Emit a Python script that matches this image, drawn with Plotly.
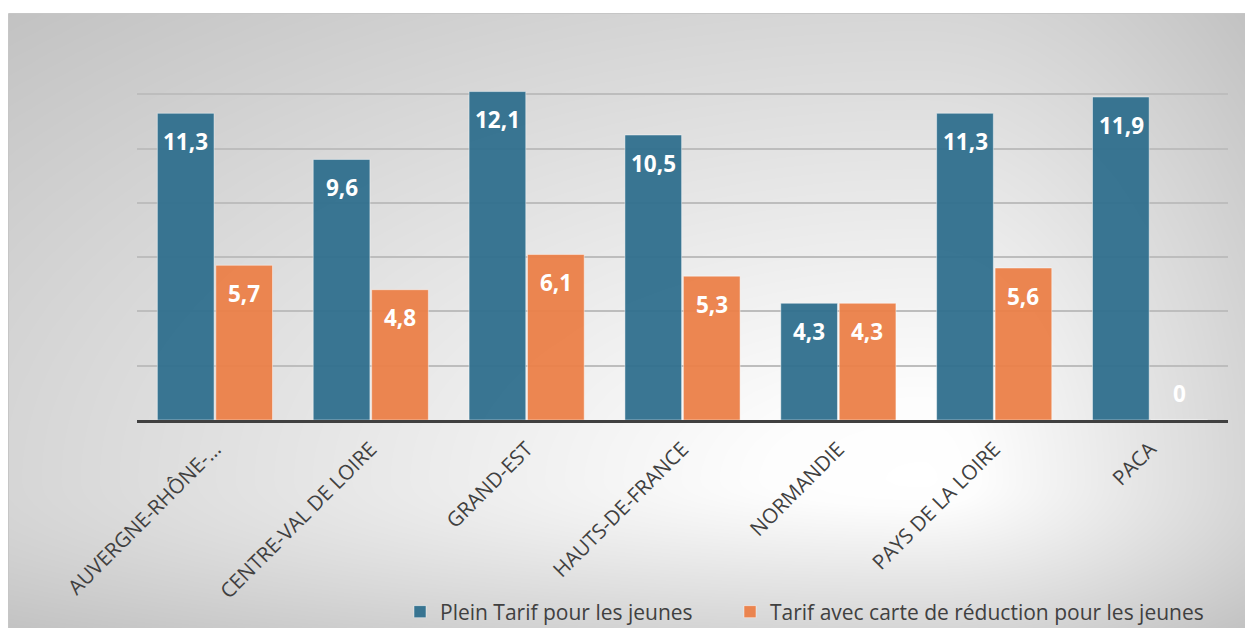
import numpy as np
import plotly.graph_objects as go

categories = ["AUVERGNE-RHÔNE-…", "CENTRE-VAL DE LOIRE", "GRAND-EST", "HAUTS-DE-FRANCE",
              "NORMANDIE", "PAYS DE LA LOIRE", "PACA"]
plein_tarif = [11.3, 9.6, 12.1, 10.5, 4.3, 11.3, 11.9]
tarif_reduit = [5.7, 4.8, 6.1, 5.3, 4.3, 5.6, 0]
series_names = ["Plein Tarif pour les jeunes", "Tarif avec carte de réduction pour les jeunes"]

BLUE = "rgba(47,111,141,0.95)"
ORANGE = "rgba(235,128,72,0.95)"
FONT = "Open Sans"
TXT = "#404040"

W, H = 1245, 628

# ---- background radial gradient (decoration) ----
nx, ny = 200, 100
gx = np.linspace(0, 1, nx)
gy = np.linspace(0, 1, ny)
X, Y = np.meshgrid(gx, gy)
cx, cy = 0.74, 0.24  # focus (fraction of background box, y from bottom)
dx = np.where(X >= cx, (X - cx) / (1 - cx), (cx - X) / cx)
dy = np.where(Y >= cy, (Y - cy) / (1 - cy), (cy - Y) / cy)
T = np.clip(np.sqrt(dx ** 2 + dy ** 2), 0, 1.42)

fig = go.Figure()
fig.add_trace(go.Heatmap(
    x=gx, y=gy, z=T, zmin=0, zmax=1.42, zsmooth="best",
    colorscale=[[0, "#ffffff"], [0.12, "#fdfdfd"], [1, "#c2c2c2"]],
    showscale=False, hoverinfo="skip", xaxis="x", yaxis="y", showlegend=False,
))

# ---- bars ----
for name, vals, col, lg in [(series_names[0], plein_tarif, BLUE, "legend"),
                            (series_names[1], tarif_reduit, ORANGE, "legend2")]:
    fig.add_trace(go.Bar(
        x=categories, y=vals, name=name, xaxis="x2", yaxis="y2", legend=lg,
        marker=dict(color=col, line=dict(color="rgba(255,255,255,0.45)", width=1)),
        hoverinfo="x+y",
    ))

# ---- data labels ----
annotations = []
for vals, shift in [(plein_tarif, -29), (tarif_reduit, 29)]:
    for c, v in zip(categories, vals):
        annotations.append(dict(
            x=c, y=v, xref="x2", yref="y2", xshift=shift,
            yshift=-28 if v > 0 else 27, yanchor="middle",
            text=f"{v:g}".replace(".", ","), showarrow=False,
            font=dict(family=FONT, size=22.5, color="white", weight="bold"),
        ))

x0 = 9 / W
ytop = (H - 14) / H
legend_common = dict(orientation="h", xanchor="left", y=16 / H, yanchor="middle",
                     font=dict(family=FONT, size=21, color=TXT), bgcolor="rgba(0,0,0,0)")
fig.update_layout(
    template="none",
    width=W, height=H, margin=dict(l=0, r=0, t=0, b=0, autoexpand=False),
    paper_bgcolor="white", plot_bgcolor="rgba(0,0,0,0)",
    xaxis=dict(domain=[x0, 1], range=[0, 1], visible=False, fixedrange=True, automargin=False),
    yaxis=dict(domain=[0, ytop], range=[0, 1], visible=False, fixedrange=True, automargin=False),
    xaxis2=dict(domain=[137 / W, 1228 / W], anchor="y2", tickangle=-45, automargin=False,
                tickfont=dict(family=FONT, size=20.5, color=TXT), ticklabelstandoff=6,
                showline=True, linecolor="#404040", linewidth=3, showgrid=False,
                ticks=""),
    yaxis2=dict(domain=[208 / H, 588 / H], anchor="x2", range=[0, 14], dtick=2, automargin=False,
                showticklabels=False, showgrid=True, gridcolor="#bdbdbd", gridwidth=1.5,
                zeroline=False, showline=False, ticks=""),
    barmode="group", bargap=0.25, bargroupgap=0.03,
    showlegend=True,
    legend=dict(x=400 / W, **legend_common),
    legend2=dict(x=730 / W, **legend_common),
    annotations=annotations,
    shapes=[dict(type="rect", xref="paper", yref="paper", x0=x0, x1=1.01, y0=-0.01, y1=ytop,
                 line=dict(color="#b4b4b4", width=1.5), layer="below")],
)

fig.write_html("out.html")
